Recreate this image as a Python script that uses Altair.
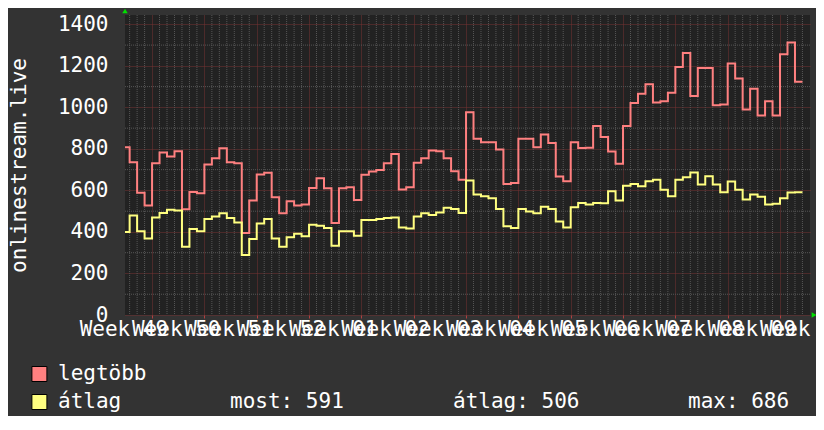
import altair as alt
import pandas as pd

# ---- data (one value per day) ----
max_vals = [808, 736, 589, 527, 731, 783, 763, 789, 509, 592, 586, 725, 755, 803, 736, 731,
            395, 551, 677, 685, 567, 490, 548, 528, 532, 612, 659, 610, 443, 610, 615, 554,
            676, 691, 699, 731, 776, 604, 615, 733, 755, 792, 789, 755, 692, 652, 977, 849,
            832, 832, 797, 631, 636, 849, 849, 808, 870, 829, 667, 644, 832, 804, 805, 910,
            857, 787, 728, 910, 1021, 1066, 1111, 1023, 1030, 1071, 1195, 1262, 1055, 1190,
            1190, 1010, 1014, 1211, 1139, 990, 1090, 961, 1030, 961, 1256, 1312, 1123]
avg_vals = [400, 479, 403, 369, 470, 491, 507, 503, 329, 414, 403, 462, 474, 490, 467, 445,
            289, 366, 441, 462, 369, 329, 374, 391, 379, 435, 430, 419, 333, 403, 403, 382,
            458, 458, 462, 467, 470, 422, 417, 475, 490, 482, 494, 516, 511, 491, 648, 580,
            572, 562, 511, 427, 419, 511, 499, 490, 522, 511, 450, 422, 519, 540, 532, 540,
            538, 596, 551, 623, 631, 620, 644, 651, 603, 572, 652, 664, 686, 628, 668, 628,
            591, 643, 603, 556, 580, 570, 532, 536, 562, 590, 591]
series_names = ["legtöbb", "átlag"]
series_colors = ["#ff8080", "#ffff80"]
week_labels = ["Week 49", "Week 50", "Week 51", "Week 52", "Week 01", "Week 02", "Week 03",
               "Week 04", "Week 05", "Week 06", "Week 07", "Week 08", "Week 09", "Week 10"]
stats_labels = ["most: 591", "átlag: 506", "max: 686"]
y_ticks = [0, 200, 400, 600, 800, 1000, 1200, 1400]
y_minor = [100, 300, 500, 700, 900, 1100, 1300]
y_title = "onlinestream.live"

# x axis unit: days since the Monday starting week 49
first_day = 3
x_domain = [3.38, 95.01]
y_domain = [0, 1445]

rows = []
for name, vals in zip(series_names, [max_vals, avg_vals]):
    for i, v in enumerate(vals):
        rows.append({"t": first_day + i, "v": v, "series": name})
    rows.append({"t": first_day + len(vals), "v": vals[-1], "series": name})  # end of last step
df = pd.DataFrame(rows)

week_ticks = [7 * k for k in range(1, 14)]
day_minor = pd.DataFrame({"t": [d for d in range(4, 95) if d % 7 != 0]})
hour_minor = pd.DataFrame({"v": y_minor})
weeks_df = pd.DataFrame({"t": [3.5 + 7 * k for k in range(len(week_labels))], "label": week_labels})

MONO = "DejaVu Sans Mono"
FS = 21
GRID_GRAY = "#565656"
GRID_RED = "#763232"

xs = alt.Scale(domain=x_domain, nice=False, zero=False)
ys = alt.Scale(domain=y_domain, nice=False, zero=False)

x_axis = alt.Axis(values=week_ticks, grid=True, gridColor=GRID_RED, gridDash=[1, 1],
                  labels=False, ticks=True, tickColor="#b04040", tickSize=3,
                  domain=False, title=None)
y_axis = alt.Axis(values=y_ticks, grid=True, gridColor=GRID_RED, gridDash=[1, 1],
                  ticks=False, domain=False, labelFont=MONO, labelFontSize=FS, format="d",
                  labelColor="white", labelPadding=17, labelFlush=False, labelOverlap=False,
                  title=y_title, titleFont=MONO, titleFontSize=FS, titleFontWeight="normal",
                  titleColor="white", titleAngle=270, titleX=-106, titleY=150,
                  titleAlign="center", titleBaseline="middle")

X = lambda: alt.X("t:Q", scale=xs, axis=x_axis)
Y = lambda: alt.Y("v:Q", scale=ys, axis=y_axis)

vgrid = alt.Chart(day_minor).mark_rule(color=GRID_GRAY, strokeDash=[1, 1], strokeWidth=1).encode(
    x=X()
)
hgrid = alt.Chart(hour_minor).mark_rule(color=GRID_GRAY, strokeDash=[1, 1], strokeWidth=1).encode(
    y=Y()
)

color_scale = alt.Scale(domain=series_names, range=series_colors)

lines = alt.Chart(df).mark_line(interpolate="step-after", strokeWidth=2, clip=True).encode(
    x=X(),
    y=Y(),
    stroke=alt.Stroke("series:N", scale=color_scale, legend=None),
)

week_text = alt.Chart(weeks_df).mark_text(font=MONO, fontSize=FS, color="white",
                                          align="center", baseline="middle", dx=-2).encode(
    x=X(),
    y=alt.value(315),
    text="label:N",
)

# legend (two swatches with names) and the statistics line
legend_layers = []
for name, col, py in zip(series_names, series_colors, [359, 387]):
    legend_layers.append(
        alt.Chart(alt.Data(values=[{"s": name}])).mark_square(
            size=225, filled=True, fill=col, stroke="black", strokeWidth=1, opacity=1).encode(
            x=alt.value(-85.6), y=alt.value(py))
    )
    legend_layers.append(
        alt.Chart(alt.Data(values=[{"s": name}])).mark_text(
            font=MONO, fontSize=FS, color="white", align="left", baseline="middle").encode(
            x=alt.value(-67), y=alt.value(py), text="s:N")
    )

stat_layers = []
for label, px in zip(stats_labels, [105, 328, 563]):
    stat_layers.append(
        alt.Chart(alt.Data(values=[{"s": label}])).mark_text(
            font=MONO, fontSize=FS, color="white", align="left", baseline="middle").encode(
            x=alt.value(px), y=alt.value(387), text="s:N")
    )

arrow_up = alt.Chart(alt.Data(values=[{}])).mark_point(
    shape="triangle-up", filled=True, color="#00e000", size=30, opacity=1).encode(
    x=alt.value(0), y=alt.value(-4))
arrow_right = alt.Chart(alt.Data(values=[{}])).mark_point(
    shape="triangle-right", filled=True, color="#00e000", size=30, opacity=1).encode(
    x=alt.value(689), y=alt.value(300))

chart = alt.layer(vgrid, hgrid, lines, week_text, *legend_layers, *stat_layers,
                  arrow_up, arrow_right).properties(
    width=685, height=300,
    autosize=alt.AutoSizeParams(type="none"),
    padding={"left": 117, "top": 7, "right": 6, "bottom": 101},
    background="#333333",
).configure_view(fill="#222222", stroke=None)

chart.save("out.html", embed_options={"renderer": "svg", "actions": False})
